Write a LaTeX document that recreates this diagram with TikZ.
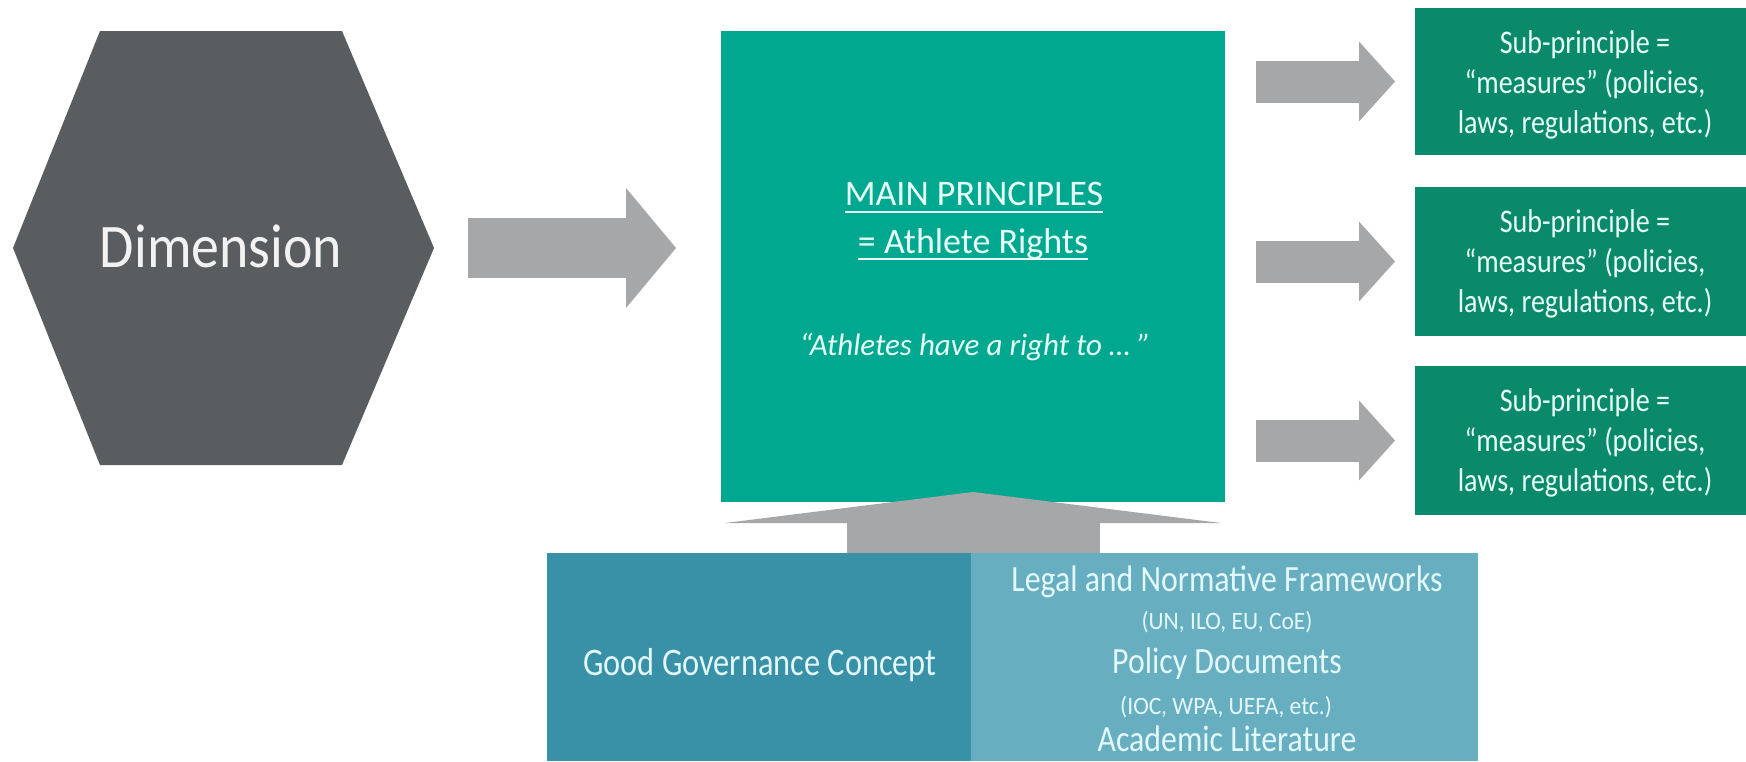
\documentclass[tikz,border=0pt]{standalone}
\usepackage{fontspec}
\setmainfont{Carlito}
\usetikzlibrary{arrows.meta,calc}
\definecolor{hexgray}{HTML}{5A5D5F}
\definecolor{arrowgray}{HTML}{A5A7A8}
\definecolor{maingreen}{HTML}{00A88F}
\definecolor{subgreen}{HTML}{0B8A6B}
\definecolor{ggblue}{HTML}{3891A7}
\definecolor{litblue}{HTML}{67AFC0}
\definecolor{mint}{HTML}{E6FFF7}
\definecolor{ice}{HTML}{E2F8FC}
\definecolor{dimwhite}{HTML}{F2F2F2}
\begin{document}
\begin{tikzpicture}[x=1pt,y=-1pt,
  box/.style={draw=none, inner sep=0pt, outer sep=0pt, rectangle},
  txt/.style={inner sep=0pt, outer sep=0pt, anchor=base},
  dimtxt/.style={txt, font=\fontsize{62}{70}\selectfont, text=dimwhite, xscale=0.9},
  maintxt/.style={txt, font=\fontsize{36}{40}\selectfont, text=mint},
  ittxt/.style={txt, font=\fontsize{31}{36}\selectfont\itshape, text=mint},
  subtxt/.style={txt, font=\fontsize{33}{40}\selectfont, text=mint, xscale=0.85},
  ggtxt/.style={txt, font=\fontsize{39}{44}\selectfont, text=ice, xscale=0.83},
  bigtxt/.style={txt, font=\fontsize{37}{42}\selectfont, text=ice, xscale=0.86},
  smalltxt/.style={txt, font=\fontsize{25}{30}\selectfont, text=ice, xscale=0.94},
  blk/.style={draw=arrowgray, line cap=butt},
  uline/.style={draw=mint, line width=2pt},
]
\clip (0,0) rectangle (1746,761);
\fill[white] (0,0) rectangle (1746,761);

% hexagon
\fill[hexgray] (100,31) -- (342,31) -- (434,248) -- (342,465) -- (100,465) -- (13,248) -- cycle;
\coordinate (hexE) at (434,248);
\node[dimtxt] (dim) at (221,267) {Dimension};

% main box
\node[box, fill=maingreen, minimum width=504pt, minimum height=471pt] (main) at (973,266.5) {};
\node[maintxt] (t1) at (974,205) {MAIN PRINCIPLES};
\node[maintxt] (t2) at (973,253) {= Athlete Rights};
\node[ittxt] (t3) at (975,355) {“Athletes have a right to … ”};
\draw[uline] ([yshift=-7pt]t1.base west) -- ([yshift=-7pt]t1.base east);
\draw[uline] ([yshift=-6pt]t2.base west) -- ([yshift=-6pt]t2.base east);

% sub-principle boxes
\node[box, fill=subgreen, minimum width=345pt, minimum height=147pt, anchor=north west] (s1) at (1415,8) {};
\node[box, fill=subgreen, minimum width=345pt, minimum height=149pt, anchor=north west] (s2) at (1415,187) {};
\node[box, fill=subgreen, minimum width=345pt, minimum height=149pt, anchor=north west] (s3) at (1415,366) {};
\foreach \i/\t in {1/8,2/187,3/366}{
  \node[subtxt] (s\i-a) at (1585,\t+45) {Sub-principle =};
  \node[subtxt] (s\i-b) at (1585,\t+85) {“measures” (policies,};
  \node[subtxt] (s\i-c) at (1585,\t+125) {laws, regulations, etc.)};
}

% bottom boxes
\node[box, fill=ggblue, minimum width=424pt, minimum height=208pt, anchor=north west] (gg) at (547,553) {};
\node[box, fill=litblue, minimum width=507pt, minimum height=208pt, anchor=north west] (lit) at (971,553) {};
\node[ggtxt] (ggt) at (760,675) {Good Governance Concept};
\node[bigtxt] (l1) at (1227,591) {Legal and Normative Frameworks};
\node[smalltxt] (l2) at (1227,629) {(UN, ILO, EU, CoE)};
\node[bigtxt] (l3) at (1227,673) {Policy Documents};
\node[smalltxt] (l4) at (1226,714) {(IOC, WPA, UEFA, etc.)};
\node[bigtxt] (l5) at (1227,751) {Academic Literature};

% block arrows
\draw[blk, line width=60pt, -{Triangle[length=50pt,width=120pt,line width=0pt]},
  shorten <=34pt, shorten >=45pt] (hexE) -- (main.west |- hexE);
\foreach \i in {1,2,3}{
  \draw[blk, line width=42pt, -{Triangle[length=36pt,width=80pt,line width=0pt]},
    shorten <=31pt, shorten >=20pt] (main.east |- s\i.west) -- (s\i.west);
}
\draw[blk, line width=253pt, -{Triangle[length=31pt,width=496pt,line width=0pt]}]
  (main.south |- gg.north) -- ([yshift=10pt]main.south);
\end{tikzpicture}
\end{document}
